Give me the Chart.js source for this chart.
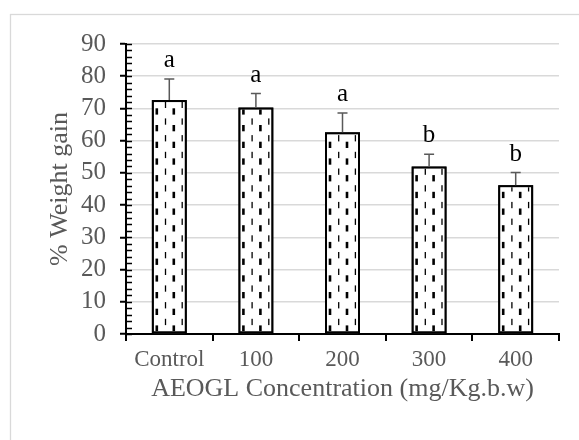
<!DOCTYPE html>
<html>
<head>
<meta charset="utf-8">
<script src="https://cdn.jsdelivr.net/npm/chart.js@4/dist/chart.umd.min.js"></script>
<style>
  html, body { margin: 0; padding: 0; background: #fff; }
  #wrap { position: relative; width: 579px; height: 440px; overflow: hidden; }
</style>
</head>
<body>
<div id="wrap"><canvas id="c" width="579" height="440"></canvas></div>
<script>
// ---- data ----
const categories = ['Control', '100', '200', '300', '400'];
const weightGain = [72.6, 70.3, 62.6, 52.0, 46.2];
const errorUpper = [6.5, 4.3, 6.0, 3.8, 3.9];
const sigLetters = ['a', 'a', 'a', 'b', 'b'];
const yTitle = '% Weight gain';
const xTitle = 'AEOGL Concentration (mg/Kg.b.w)';

const SERIF = "'Liberation Serif', 'Times New Roman', serif";
const GRAY_TXT = '#595959';

const framePlugin = {
  id: 'frame',
  beforeDraw(chart) {
    const ctx = chart.ctx;
    ctx.save();
    ctx.fillStyle = '#ffffff';
    ctx.fillRect(0, 0, chart.width, chart.height);
    ctx.strokeStyle = '#d9d9d9';
    ctx.lineWidth = 1.3;
    ctx.strokeRect(10.5, 14.5, 800, 800);
    ctx.restore();
  }
};

const minorTicksPlugin = {
  id: 'minorTicks',
  afterDraw(chart) {
    const y = chart.scales.y;
    const ctx = chart.ctx;
    ctx.save();
    ctx.strokeStyle = '#000';
    ctx.lineWidth = 1.5;
    for (let v = y.min; v <= y.max; v += 2) {
      const py = Math.round(y.getPixelForValue(v)) + 0.5;
      ctx.beginPath();
      ctx.moveTo(y.right, py);
      ctx.lineTo(y.right + 6, py);
      ctx.stroke();
    }
    ctx.restore();
  }
};

const patternErrPlugin = {
  id: 'patternErr',
  afterDatasetsDraw(chart) {
    const ctx = chart.ctx;
    const meta = chart.getDatasetMeta(0);
    const ys = chart.scales.y;
    meta.data.forEach((bar, i) => {
      const p = bar.getProps(['x', 'y', 'base', 'width'], true);
      const left = p.x - p.width / 2;
      const bw = 2;
      // hatch pattern: vertical dashes
      ctx.save();
      ctx.beginPath();
      ctx.rect(left + bw, p.y + bw, p.width - 2 * bw, p.base - p.y - 2 * bw);
      ctx.clip();
      ctx.fillStyle = '#000';
      const period = 16.7;
      const cols = [
        { off: 5.0, w: 2.6, ph: 8.1 },
        { off: 13.7, w: 1.3, ph: 1.5 },
        { off: 22.0, w: 2.6, ph: 8.1 },
        { off: 30.4, w: 1.3, ph: 1.5 }
      ];
      cols.forEach(c => {
        const cx = left + c.off * p.width / 35;
        for (let yy = c.ph - period; yy < p.base + period; yy += period) {
          if (yy + 6 < p.y) continue;
          ctx.fillRect(cx - c.w / 2, yy, c.w, 6.3);
        }
      });
      ctx.restore();

      // crisp border
      ctx.save();
      ctx.strokeStyle = '#000';
      ctx.lineWidth = 2;
      ctx.strokeRect(left + 1, p.y + 1, p.width - 2, p.base - p.y - 2);
      ctx.restore();

      // error bar (upper)
      const top = ys.getPixelForValue(weightGain[i] + errorUpper[i]);
      ctx.save();
      ctx.strokeStyle = '#595959';
      ctx.lineWidth = 1.5;
      ctx.beginPath();
      ctx.moveTo(p.x, p.y);
      ctx.lineTo(p.x, top);
      ctx.moveTo(p.x - 5, top);
      ctx.lineTo(p.x + 5, top);
      ctx.stroke();
      // significance letter
      ctx.fillStyle = '#000';
      ctx.font = '25px ' + SERIF;
      ctx.textAlign = 'center';
      ctx.textBaseline = 'alphabetic';
      ctx.fillText(sigLetters[i], p.x, top - 12);
      ctx.restore();
    });
  }
};

new Chart(document.getElementById('c'), {
  type: 'bar',
  data: {
    labels: categories,
    datasets: [{
      data: weightGain,
      backgroundColor: '#ffffff',
      borderColor: '#000000',
      borderWidth: 2,
      barPercentage: 0.404,
      categoryPercentage: 1.0
    }]
  },
  options: {
    responsive: false,
    devicePixelRatio: 1,
    animation: false,
    layout: { padding: { top: 44, right: 20, left: 0, bottom: 0 } },
    plugins: { legend: { display: false }, tooltip: { enabled: false } },
    scales: {
      x: {
        afterFit(scale) { scale.height = 106; },
        grid: {
          offset: true,
          drawOnChartArea: false,
          drawTicks: true,
          tickLength: 7,
          color: '#000',
          lineWidth: 2
        },
        border: { color: '#000', width: 2 },
        ticks: {
          color: GRAY_TXT,
          font: { family: SERIF, size: 23 },
          padding: 5,
          maxRotation: 0,
          autoSkip: false
        },
        title: {
          display: true,
          text: xTitle,
          color: GRAY_TXT,
          font: { family: SERIF, size: 26 },
          padding: { top: 0, bottom: 35 }
        }
      },
      y: {
        min: 0,
        max: 90,
        afterFit(scale) { scale.width = 126; },
        grid: {
          color: '#d9d9d9',
          lineWidth: 1.5,
          tickColor: '#000',
          tickLength: 6,
          tickWidth: 2
        },
        border: { color: '#000', width: 2 },
        ticks: {
          stepSize: 10,
          autoSkip: false,
          color: GRAY_TXT,
          font: { family: SERIF, size: 25 },
          padding: 14
        },
        title: {
          display: true,
          text: yTitle,
          color: GRAY_TXT,
          font: { family: SERIF, size: 26 },
          padding: { top: 45, bottom: 0 }
        }
      }
    }
  },
  plugins: [framePlugin, patternErrPlugin, minorTicksPlugin]
});
</script>
</body>
</html>
